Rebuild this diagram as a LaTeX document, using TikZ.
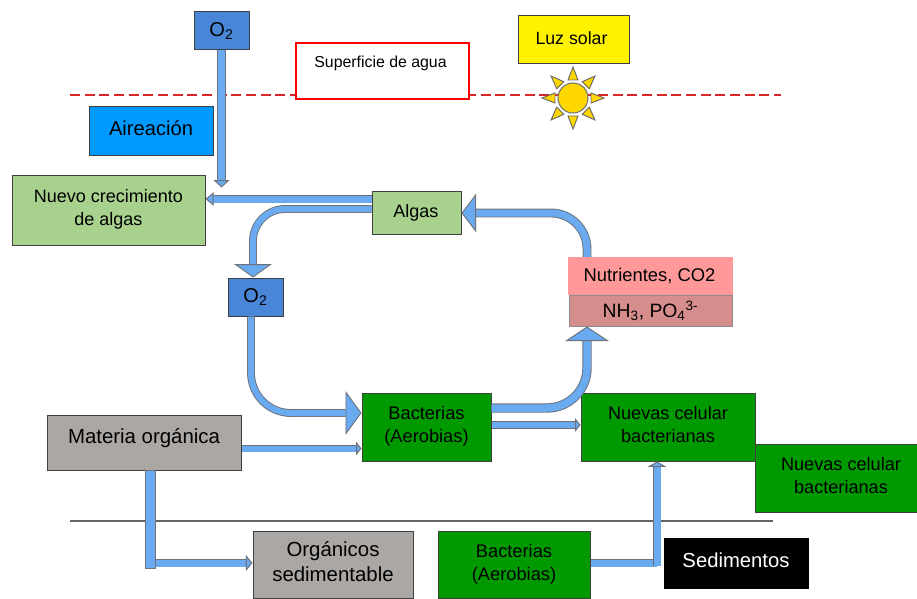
\documentclass[tikz,border=0pt]{standalone}
\usepackage{fontspec}
\setmainfont{Liberation Sans}
\usetikzlibrary{arrows.meta,calc}
\definecolor{pipeblue}{HTML}{69AAF0}
\definecolor{pipeedge}{HTML}{6E7278}
\definecolor{oxblue}{HTML}{4A86D8}
\definecolor{airblue}{HTML}{0099FF}
\definecolor{lgreen}{HTML}{A9D18E}
\definecolor{dgreen}{HTML}{009900}
\definecolor{stone}{HTML}{ABA7A5}
\definecolor{pinkbox}{HTML}{FF9999}
\definecolor{rosebox}{HTML}{D68E8C}
\definecolor{sungold}{HTML}{FFD700}
\newcommand\tx[2]{\raisebox{\dimexpr#1-.25em\relax}[0pt][0pt]{\begin{tabular}{@{}c@{}}#2\end{tabular}}}
\tikzset{
  sz/.style 2 args={minimum width=#1*0.75pt,minimum height=#2*0.75pt,inner sep=0pt},
  fs/.style={font=\fontsize{#1}{17.25}\selectfont},
  bx/.style={draw=black!75,line width=0.75pt,rectangle},
  pipe/.style={draw=pipeedge,line width=0.7pt,double=pipeblue,double distance=#1*0.75pt},
  pipe/.default=6,
}
\begin{document}
\begin{tikzpicture}[x=0.75pt,y=-0.75pt]
\useasboundingbox (0,0) rectangle (917,599);
\def\u{0.75pt}
% guide lines
\coordinate (dashL) at (70,95);
\coordinate (dashR) at (781,95);
\coordinate (soilL) at (70,521);
\coordinate (soilR) at (773,521);
\draw[draw=red!70!gray,line width=1pt,dash pattern=on 7.5pt off 3.5pt] (dashL) -- (dashR);
\draw[draw=black!60,line width=1pt] (soilL) -- (soilR);
% boxes
\node[bx,sz={55}{38},fill=oxblue,fs=15] (o2top) at (221.5,31) {O\textsubscript{2}};
\node[draw=red,line width=1.4pt,fill=white,sz={173}{56},fs=11.9] (sup) at (382.5,71) {\tx{6pt}{Superficie de agua}\hspace*{3pt}};
\node[bx,sz={111}{48},fill=yellow,fs=13.3] (luz) at (573.5,40) {\tx{0pt}{Luz solar}\hspace*{3pt}};
\node[bx,sz={124}{49},fill=airblue,fs=15.1] (air) at (151,131.5) {\tx{0.5pt}{Aireación}};
\node[bx,sz={193}{69},fill=lgreen,fs=13.5] (nue) at (108.5,210.5) {\tx{0.7pt}{Nuevo crecimiento\\de algas}};
\node[bx,sz={89}{42},fill=lgreen,fs=13.5] (alg) at (416.5,213) {\hspace*{-1pt}Algas};
\node[bx,sz={55}{38},fill=oxblue,fs=15] (o2m) at (255.5,297) {O\textsubscript{2}};
\node[draw=black!45,line width=0.75pt,sz={163}{31},fill=rosebox,fs=14.5] (nh) at (650.5,310.5) {NH\textsubscript{3}, PO\textsubscript{4}\textsuperscript{3-}};
\node[bx,sz={129}{68},fill=dgreen,fs=13.7] (bac) at (426.5,427) {\tx{0pt}{Bacterias\\(Aerobias)}};
\node[bx,sz={174}{68},fill=dgreen,fs=13.6] (cel) at (668,427) {\tx{0pt}{Nuevas celular\\bacterianas}};
\node[bx,sz={162}{68},fill=dgreen,fs=13.6] (cel2) at (836,478) {\hspace*{7.5pt}\tx{0.4pt}{Nuevas celular\\bacterianas}};
\node[bx,sz={194}{55},fill=stone,fs=15.3] (mat) at (144,442.5) {\tx{3pt}{Materia orgánica}};
\node[bx,sz={160}{67},fill=stone,fs=15.3] (org) at (333,564.5) {\tx{0.3pt}{Orgánicos\\[2.2pt]sedimentable}};
\node[bx,sz={152}{67},fill=dgreen,fs=13.7] (bac2) at (514,564.5) {\tx{-0.2pt}{Bacterias\\(Aerobias)}};
\node[draw=black,fill=black,text=white,sz={144}{50},fs=15.2] (sed) at (736,563) {\tx{0.4pt}{Sedimentos}};
% connectors
\coordinate (o2end) at ([yshift=-137*\u]o2top.south);
\draw[pipe=7,-{Triangle[length=5.5pt,width=12pt,fill=pipeblue]}] (o2top.south) -- (o2end);
\draw[pipe=7,-{Triangle[length=6pt,width=10pt,fill=pipeblue]}] ([yshift=14*\u]alg.west) -- ([yshift=11.5*\u]nue.east);
\draw[pipe=6,rounded corners=24pt,-{Triangle[length=10pt,width=28pt,fill=pipeblue]}] ([yshift=4*\u]alg.west) -| ([xshift=-2.5*\u]o2m.north);
\draw[pipe=7,rounded corners=27pt,-{Triangle[length=11pt,width=29pt,fill=pipeblue]}] ([xshift=-63.5*\u]nh.north) |- (alg.east);
\draw[pipe=6,rounded corners=30pt,-{Triangle[length=12pt,width=33pt,fill=pipeblue]}] ([xshift=-4.5*\u]o2m.south) |- ([yshift=14*\u]bac.west);
\draw[pipe=7.5,rounded corners=30pt,-{Triangle[length=11pt,width=33pt,fill=pipeblue]}] ([yshift=19*\u]bac.east) -| ([xshift=-63.5*\u]nh.south);
\draw[pipe=6,-{Triangle[length=4pt,width=10pt,fill=pipeblue]}] ([yshift=2*\u]bac.east) -- ([yshift=2*\u]cel.west);
\draw[pipe=6,-{Triangle[length=4pt,width=10pt,fill=pipeblue]}] ([yshift=-6*\u]mat.east) -- ([yshift=-21.5*\u]bac.west);
\coordinate (matend) at ([xshift=6*\u,yshift=-98*\u]mat.south);
\draw[pipe=7,-{Triangle[length=5pt,width=12pt,fill=pipeblue]}] ([yshift=1.5*\u]org.west -| matend) -- ([yshift=1.5*\u]org.west);
\draw[draw=pipeedge,line width=0.7pt,fill=pipeblue] ($(mat.south)+(1,0)$) rectangle ($(matend)+(5,0)$);
\coordinate (bacup) at ([xshift=-11*\u,yshift=-104*\u]cel.south);
\draw[pipe=7] ([yshift=1.5*\u]bac2.east) -- ([yshift=1.5*\u]bac2.east -| bacup);
\draw[pipe=7,-{Triangle[length=4pt,width=14pt,fill=pipeblue]}] (bacup) -- ([xshift=-11*\u]cel.south);
% top box over the pipe
\node[fill=pinkbox,sz={165}{38},fs=13.8] (nut) at (650.5,276) {Nutrientes, CO2\hspace*{1.5pt}};
% sun
\node[circle,draw=black!55,line width=0.8pt,fill=sungold,minimum size=30*0.75pt,inner sep=0pt] (sun) at (573,98) {};
\foreach \a in {0,45,...,315}{
  \draw[draw=black!60,line width=0.7pt,fill=sungold,shift={(sun.center)},rotate=\a]
    (18*\u,-5*\u) -- (31*\u,0pt) -- (18*\u,5*\u) -- cycle;
}
\end{tikzpicture}
\end{document}
